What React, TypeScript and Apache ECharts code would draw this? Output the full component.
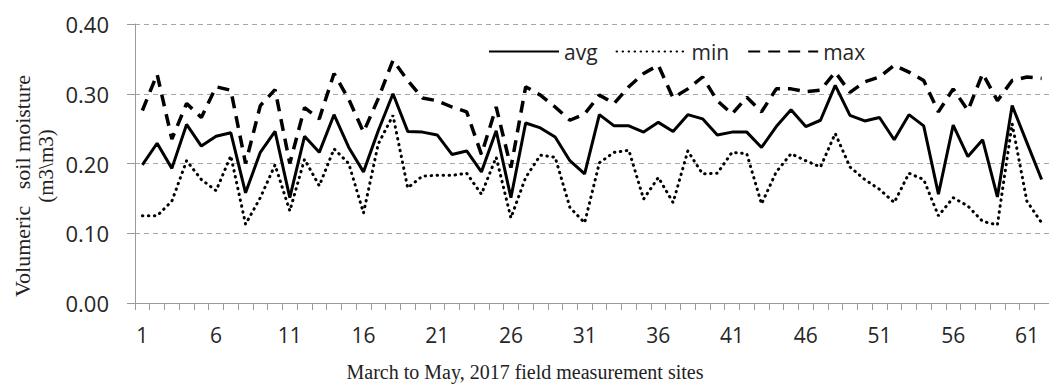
import React, { useEffect, useRef } from "react";
import * as echarts from "echarts";

const sites: string[] = Array.from({ length: 62 }, (_, i) => String(i + 1));

const avgValues: number[] = [
  0.198, 0.229, 0.193, 0.256, 0.225, 0.239, 0.244, 0.158, 0.216, 0.246,
  0.151, 0.239, 0.216, 0.270, 0.223, 0.188, 0.247, 0.300, 0.246, 0.245,
  0.241, 0.213, 0.218, 0.188, 0.247, 0.151, 0.258, 0.251, 0.238, 0.204,
  0.185, 0.270, 0.254, 0.254, 0.245, 0.259, 0.246, 0.270, 0.264, 0.241,
  0.245, 0.245, 0.223, 0.253, 0.277, 0.253, 0.262, 0.312, 0.269, 0.261,
  0.266, 0.234, 0.270, 0.254, 0.156, 0.255, 0.210, 0.234, 0.152, 0.283,
  0.230, 0.177,
];

const minValues: number[] = [
  0.125, 0.125, 0.146, 0.204, 0.177, 0.161, 0.211, 0.113, 0.151, 0.198,
  0.132, 0.206, 0.168, 0.221, 0.200, 0.129, 0.228, 0.269, 0.165, 0.182,
  0.183, 0.183, 0.186, 0.156, 0.209, 0.122, 0.180, 0.212, 0.209, 0.137,
  0.115, 0.201, 0.216, 0.219, 0.149, 0.180, 0.144, 0.218, 0.185, 0.186,
  0.216, 0.214, 0.142, 0.188, 0.214, 0.204, 0.195, 0.243, 0.195, 0.177,
  0.163, 0.144, 0.186, 0.177, 0.125, 0.151, 0.139, 0.117, 0.112, 0.257,
  0.146, 0.115,
];

const maxValues: number[] = [
  0.276, 0.328, 0.235, 0.286, 0.266, 0.310, 0.305, 0.200, 0.283, 0.306,
  0.200, 0.280, 0.264, 0.329, 0.292, 0.245, 0.293, 0.348, 0.319, 0.294,
  0.290, 0.281, 0.274, 0.213, 0.281, 0.194, 0.310, 0.298, 0.281, 0.262,
  0.271, 0.298, 0.286, 0.310, 0.329, 0.341, 0.294, 0.307, 0.324, 0.290,
  0.271, 0.295, 0.274, 0.307, 0.307, 0.303, 0.305, 0.331, 0.302, 0.317,
  0.324, 0.341, 0.331, 0.319, 0.274, 0.307, 0.276, 0.329, 0.290, 0.319,
  0.324, 0.322,
];

const seriesNames: string[] = ["avg", "min", "max"];
const yTitleLine1 = "Volumeric   soil moisture";
const yTitleLine2 = "(m3\\m3)";
const xTitle = "March to May, 2017 field measurement sites";

const SANS = "'Open Sans', 'Liberation Sans', sans-serif";
const SERIF = "'Liberation Serif', 'DejaVu Serif', serif";

export default function App() {
  const ref = useRef<HTMLDivElement>(null);

  useEffect(() => {
    if (!ref.current) return;
    const chart = echarts.init(ref.current, undefined, { renderer: "svg" });
    chart.setOption({
      animation: false,
      backgroundColor: "#ffffff",
      grid: { left: 135, top: 24, width: 919, height: 279, containLabel: false },
      legend: {
        data: seriesNames,
        left: 483,
        top: 36,
        itemWidth: 70,
        itemHeight: 14,
        itemGap: 18,
        itemStyle: { opacity: 0 },
        textStyle: { fontFamily: SANS, fontSize: 21, color: "#262626" },
      },
      xAxis: {
        type: "category",
        data: sites,
        boundaryGap: true,
        axisLine: { show: true, lineStyle: { color: "#9a9a9a", width: 1 } },
        axisTick: { show: true, interval: 0, length: 7, lineStyle: { color: "#9a9a9a" } },
        axisLabel: {
          interval: 4,
          margin: 21,
          fontFamily: SANS,
          fontSize: 21,
          color: "#262626",
        },
        splitLine: { show: false },
      },
      yAxis: {
        type: "value",
        min: 0,
        max: 0.4,
        interval: 0.1,
        axisLine: { show: true, lineStyle: { color: "#9a9a9a", width: 1 } },
        axisTick: { show: true, length: 8, lineStyle: { color: "#9a9a9a" } },
        axisLabel: {
          margin: 26,
          fontFamily: SANS,
          fontSize: 22,
          color: "#262626",
          formatter: (v: number) => v.toFixed(2),
        },
        splitLine: { show: true, lineStyle: { color: "#a6a6a6", type: [5, 4], width: 1 } },
      },
      graphic: [
        {
          type: "text",
          x: 22,
          y: 186,
          rotation: Math.PI / 2,
          style: {
            text: yTitleLine1,
            fontFamily: SERIF,
            fontSize: 22,
            fill: "#222",
            textAlign: "center",
            textVerticalAlign: "middle",
          },
        },
        {
          type: "text",
          x: 46,
          y: 166,
          rotation: Math.PI / 2,
          style: {
            text: yTitleLine2,
            fontFamily: SERIF,
            fontSize: 21,
            fill: "#222",
            textAlign: "center",
            textVerticalAlign: "middle",
          },
        },
        {
          type: "text",
          x: 525,
          y: 372,
          style: {
            text: xTitle,
            fontFamily: SERIF,
            fontSize: 20,
            fill: "#222",
            textAlign: "center",
            textVerticalAlign: "middle",
          },
        },
      ],
      series: [
        {
          name: seriesNames[0],
          type: "line",
          data: avgValues,
          symbol: "none",
          lineStyle: { color: "#000", width: 3, type: "solid" },
          itemStyle: { color: "#000" },
        },
        {
          name: seriesNames[1],
          type: "line",
          data: minValues,
          symbol: "none",
          lineStyle: { color: "#000", width: 3, type: [0.5, 5.5], cap: "round" },
          itemStyle: { color: "#000" },
        },
        {
          name: seriesNames[2],
          type: "line",
          data: maxValues,
          symbol: "none",
          lineStyle: { color: "#000", width: 3.5, type: [12, 8] },
          itemStyle: { color: "#000" },
        },
      ],
    });
    return () => chart.dispose();
  }, []);

  return (
    <div
      ref={ref}
      style={{ position: "fixed", left: 0, top: 0, width: 1049, height: 385, background: "#fff" }}
    />
  );
}
